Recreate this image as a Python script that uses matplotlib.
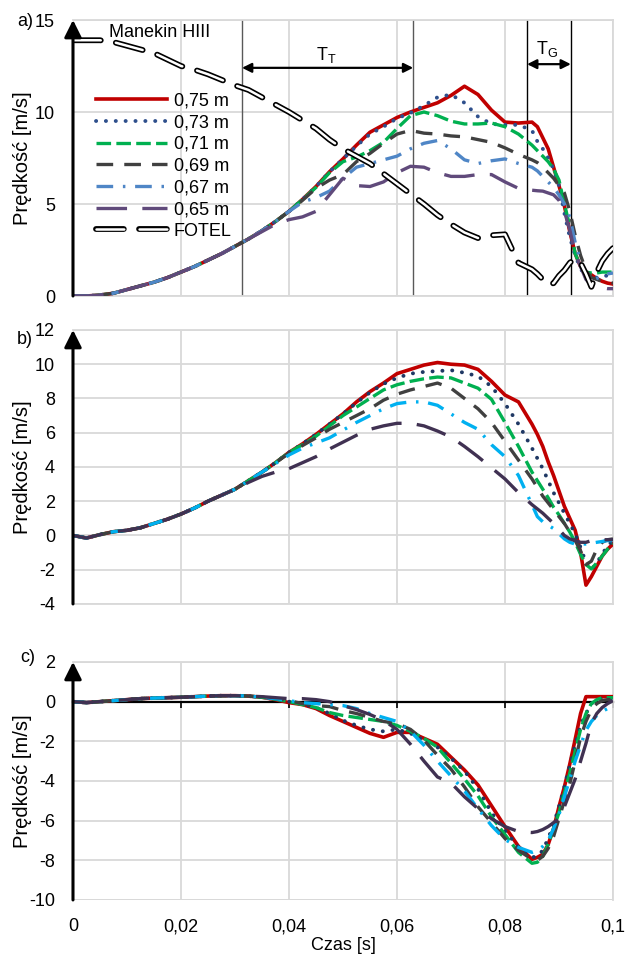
import matplotlib
matplotlib.use('Agg')
import matplotlib.pyplot as plt
from matplotlib.legend_handler import HandlerTuple

plt.rcParams['font.family'] = ['Liberation Sans Narrow', 'Liberation Sans', 'DejaVu Sans']
plt.rcParams['font.size'] = 13
plt.rcParams['lines.scale_dashes'] = False
plt.rcParams['mathtext.fontset'] = 'custom'
plt.rcParams['mathtext.rm'] = 'Liberation Sans'

# ---------- DANE ----------
t = [0, .0025, .005, .0075, .01, .0125, .015, .0175, .02, .0225,
     .025, .0275, .03, .0325, .035, .0375, .04, .0425, .045, .0475,
     .05, .0525, .055, .0575, .06, .0625, .065, .0675, .07, .0725,
     .075, .0775, .08, .0825, .085, .086, .087, .088, .089, .09,
     .091, .092, .093, .094, .095, .096, .097, .098, .099, .1]

labels = ['0,75 m', '0,73 m', '0,71 m', '0,69 m', '0,67 m', '0,65 m']

# a) Manekin HIII
a_075 = [0, 0, 0.05, 0.15, 0.35, 0.55, 0.75, 1.0, 1.3, 1.6,
         1.95, 2.3, 2.7, 3.1, 3.55, 4.05, 4.6, 5.25, 5.95, 6.75,
         7.45, 8.2, 8.9, 9.3, 9.7, 10.0, 10.25, 10.5, 10.9, 11.4,
         10.95, 10.1, 9.45, 9.4, 9.45, 9.2, 8.6, 8.0, 7.0, 6.0,
         4.9, 3.5, 2.3, 1.6, 1.3, 1.15, 0.95, 0.8, 0.7, 0.65]
a_073 = [0, 0, 0.05, 0.15, 0.35, 0.55, 0.75, 1.0, 1.3, 1.6,
         1.95, 2.3, 2.7, 3.1, 3.55, 4.05, 4.6, 5.25, 5.95, 6.75,
         7.45, 8.15, 8.8, 9.2, 9.65, 9.95, 10.35, 10.8, 10.95, 10.5,
         9.75, 9.35, 9.3, 9.3, 9.0, 8.4, 8.0, 7.5, 6.9, 6.0,
         4.5, 3.2, 2.2, 1.5, 1.0, 0.9, 1.0, 1.1, 1.1, 1.1]
a_071 = [0, 0, 0.05, 0.15, 0.35, 0.55, 0.75, 1.0, 1.3, 1.6,
         1.95, 2.3, 2.7, 3.1, 3.55, 4.05, 4.6, 5.25, 5.9, 6.7,
         7.3, 7.55, 7.9, 8.35, 9.1, 9.8, 10.0, 9.8, 9.5, 9.35,
         9.35, 9.4, 9.2, 8.8, 8.2, 7.9, 7.6, 7.3, 6.9, 6.3,
         5.0, 3.8, 2.3, 1.6, 1.3, 1.25, 1.25, 1.3, 1.3, 1.3]
a_069 = [0, 0, 0.05, 0.15, 0.35, 0.55, 0.75, 1.0, 1.3, 1.6,
         1.95, 2.3, 2.7, 3.1, 3.55, 4.05, 4.6, 5.2, 5.85, 6.3,
         6.6, 7.3, 7.75, 8.3, 8.8, 9.0, 8.85, 8.8, 8.7, 8.65,
         8.5, 8.35, 8.05, 7.7, 7.4, 7.25, 7.0, 6.7, 6.4, 6.0,
         5.6, 4.6, 3.3, 2.2, 1.4, 1.0, 0.9, 0.8, 0.75, 0.7]
a_067 = [0, 0, 0.05, 0.15, 0.35, 0.55, 0.75, 1.0, 1.3, 1.6,
         1.95, 2.3, 2.7, 3.1, 3.55, 4.05, 4.6, 5.1, 5.35, 5.7,
         6.4, 7.0, 7.2, 7.4, 7.6, 8.0, 8.3, 8.45, 8.0, 7.4,
         7.2, 7.35, 7.45, 7.2, 7.0, 6.8, 6.5, 6.2, 5.9, 5.5,
         5.0, 4.3, 2.9, 1.9, 0.95, 0.85, 0.95, 1.1, 1.2, 1.25]
a_065 = [0, 0, 0.05, 0.15, 0.35, 0.55, 0.75, 1.0, 1.3, 1.6,
         1.95, 2.3, 2.7, 3.1, 3.5, 3.9, 4.15, 4.3, 4.6, 5.5,
         6.4, 6.0, 5.95, 6.2, 6.7, 7.05, 7.0, 6.7, 6.5, 6.5,
         6.6, 6.6, 6.2, 5.85, 5.75, 5.72, 5.7, 5.6, 5.5, 5.2,
         4.6, 3.6, 2.3, 1.6, 0.9, 0.6, 0.5, 0.45, 0.4, 0.4]
a_fotel = [13.9, 13.9, 13.9, 13.8, 13.6, 13.4, 13.2, 12.85, 12.5, 12.3,
           12.05, 11.75, 11.45, 11.2, 10.8, 10.4, 10.0, 9.55, 9.1, 8.5,
           8.0, 7.6, 7.2, 6.65, 6.1, 5.55, 5.0, 4.4, 3.9, 3.45,
           3.15, 3.3, 3.35, 1.8, 1.45, 1.2, 0.9, 0.6, 0.7, 1.1,
           1.4, 1.8, 2.05, 1.8, 1.2, 0.5, 1.3, 1.9, 2.3, 2.6]

# b)
b_075 = [0, -0.15, 0.05, 0.22, 0.3, 0.45, 0.7, 0.95, 1.25, 1.6,
         2.0, 2.35, 2.7, 3.2, 3.7, 4.25, 4.85, 5.35, 5.9, 6.5,
         7.1, 7.8, 8.4, 8.9, 9.45, 9.7, 9.95, 10.1, 10.0, 9.95,
         9.7, 9.0, 8.2, 7.8, 6.5, 5.9, 5.2, 4.3, 3.5, 2.6,
         1.7, 1.0, 0.3, -1.0, -2.9, -2.4, -1.8, -1.2, -0.8, -0.5]
b_073 = [0, -0.15, 0.05, 0.22, 0.3, 0.45, 0.7, 0.95, 1.25, 1.6,
         2.0, 2.35, 2.7, 3.2, 3.7, 4.25, 4.85, 5.35, 5.9, 6.5,
         7.1, 7.75, 8.35, 8.85, 9.2, 9.45, 9.55, 9.6, 9.65, 9.5,
         9.3, 8.7, 7.7, 6.5, 5.1, 4.5, 3.9, 3.2, 2.5, 1.9,
         1.3, 0.7, 0.1, -0.7, -1.6, -2.0, -1.6, -1.1, -0.6, -0.3]
b_071 = [0, -0.15, 0.05, 0.22, 0.3, 0.45, 0.7, 0.95, 1.25, 1.6,
         2.0, 2.35, 2.7, 3.2, 3.7, 4.25, 4.85, 5.3, 5.8, 6.4,
         7.0, 7.5, 8.0, 8.5, 8.8, 9.0, 9.15, 9.25, 9.2, 8.9,
         8.6, 7.95, 6.6, 5.2, 3.7, 3.2, 2.7, 2.2, 1.65, 1.2,
         0.7, 0.2, -0.4, -1.1, -1.7, -1.95, -1.6, -1.2, -0.8, -0.5]
b_069 = [0, -0.15, 0.05, 0.22, 0.3, 0.45, 0.7, 0.95, 1.25, 1.6,
         2.0, 2.35, 2.7, 3.2, 3.7, 4.25, 4.8, 5.25, 5.7, 6.2,
         6.6, 7.0, 7.4, 7.9, 8.25, 8.5, 8.7, 8.9, 8.6, 8.0,
         7.4, 6.6, 5.5, 4.4, 3.3, 2.8, 2.3, 1.9, 1.5, 1.1,
         0.7, 0.2, -0.3, -0.9, -1.7, -1.5, -0.8, -0.4, -0.25, -0.2]
b_067 = [0, -0.15, 0.05, 0.22, 0.3, 0.45, 0.7, 0.95, 1.25, 1.6,
         2.0, 2.35, 2.7, 3.2, 3.7, 4.2, 4.7, 5.1, 5.4, 5.7,
         6.15, 6.6, 7.0, 7.4, 7.7, 7.8, 7.8, 7.6, 7.1, 6.6,
         6.2, 5.3, 4.6, 3.5, 1.8, 1.1, 0.8, 0.6, 0.4, 0.1,
         -0.2, -0.4, -0.5, -0.5, -0.5, -0.45, -0.4, -0.35, -0.3, -0.3]
b_065 = [0, -0.15, 0.05, 0.22, 0.3, 0.45, 0.7, 0.95, 1.25, 1.6,
         2.0, 2.35, 2.7, 3.1, 3.45, 3.7, 3.9, 4.25, 4.6, 5.05,
         5.45, 5.85, 6.2, 6.4, 6.55, 6.55, 6.4, 6.1, 5.75, 5.2,
         4.6, 3.95, 3.3, 2.5, 1.8, 1.55, 1.3, 1.0, 0.7, 0.35,
         0.0, -0.2, -0.3, -0.4, -0.4, -0.3, -0.25, -0.25, -0.25, -0.25]

# c)
c_075 = [0, -0.05, 0.0, 0.05, 0.1, 0.15, 0.18, 0.2, 0.22, 0.25,
         0.28, 0.3, 0.3, 0.28, 0.22, 0.1, -0.05, -0.15, -0.35, -0.7,
         -1.0, -1.3, -1.6, -1.8, -1.55, -1.55, -1.85, -2.15, -2.8, -3.45,
         -4.2, -5.25, -6.3, -7.3, -7.95, -7.85, -7.7, -7.2, -6.4, -5.3,
         -4.3, -3.15, -1.9, -0.6, 0.25, 0.25, 0.25, 0.25, 0.25, 0.25]
c_073 = [0, -0.05, 0.0, 0.05, 0.1, 0.15, 0.18, 0.2, 0.22, 0.25,
         0.28, 0.3, 0.3, 0.28, 0.22, 0.12, 0.0, -0.12, -0.3, -0.6,
         -0.95, -1.2, -1.4, -1.5, -1.4, -1.6, -1.95, -2.3, -2.85, -3.5,
         -4.4, -5.6, -6.5, -7.35, -7.85, -7.8, -7.5, -6.9, -6.2, -5.3,
         -4.3, -3.2, -2.2, -1.2, -0.6, -0.1, 0.1, 0.15, 0.15, 0.15]
c_071 = [0, -0.05, 0.0, 0.05, 0.1, 0.15, 0.18, 0.2, 0.22, 0.25,
         0.28, 0.3, 0.3, 0.28, 0.22, 0.12, 0.0, -0.15, -0.3, -0.55,
         -0.7, -0.8, -0.9, -1.0, -1.2, -1.5, -1.85, -2.3, -3.1, -3.9,
         -4.75, -5.8, -6.7, -7.6, -8.15, -8.1, -7.8, -7.2, -6.4, -5.6,
         -4.6, -3.6, -2.5, -1.4, -0.6, -0.1, 0.1, 0.2, 0.2, 0.2]
c_069 = [0, -0.05, 0.0, 0.05, 0.1, 0.15, 0.18, 0.2, 0.22, 0.25,
         0.28, 0.3, 0.3, 0.28, 0.22, 0.15, 0.05, -0.1, -0.2, -0.25,
         -0.45, -0.6, -0.8, -1.0, -1.1, -1.4, -1.95, -2.7, -3.4, -4.3,
         -5.3, -6.1, -6.9, -7.5, -7.95, -8.0, -7.8, -7.4, -6.8, -5.9,
         -5.0, -4.15, -3.0, -1.8, -1.0, -0.4, -0.1, 0.05, 0.1, 0.1]
c_067 = [0, -0.05, 0.0, 0.05, 0.1, 0.15, 0.18, 0.2, 0.22, 0.25,
         0.28, 0.3, 0.3, 0.28, 0.22, 0.15, 0.05, -0.05, -0.1, -0.15,
         -0.2, -0.35, -0.6, -0.8, -1.0, -1.5, -2.2, -3.0, -3.75, -4.5,
         -5.4, -6.25, -6.95, -7.35, -7.6, -7.5, -7.3, -7.0, -6.4, -5.7,
         -4.8, -3.9, -3.0, -2.2, -1.45, -1.0, -0.7, -0.5, -0.35, -0.25]
c_065 = [0, -0.05, 0.0, 0.05, 0.1, 0.15, 0.18, 0.2, 0.22, 0.25,
         0.28, 0.3, 0.3, 0.28, 0.25, 0.2, 0.15, 0.15, 0.1, 0.0,
         -0.2, -0.4, -0.65, -0.95, -1.4, -2.15, -3.0, -3.8, -4.1, -4.8,
         -5.4, -5.9, -6.3, -6.55, -6.6, -6.55, -6.45, -6.3, -6.1, -5.9,
         -5.3, -4.6, -3.9, -3.0, -2.1, -1.1, -0.6, -0.3, -0.1, 0.05]

# granice faz T_T i T_G
phase_lines = [0.0313, 0.063, 0.0841, 0.0922]

# ---------- STYLE ----------
colors_a = ['#c00000', '#2e4f8c', '#00b050', '#404040', '#4f86c6', '#604a7b']
colors_bc = ['#c00000', '#1f3864', '#00b050', '#404040', '#00b0f0', '#403152']
line_kw = [
    dict(linestyle='-', lw=2.6),
    dict(linestyle=(0, (0.1, 7.0)), lw=2.8, dash_capstyle='round'),
    dict(linestyle=(0, (10.5, 3.8)), lw=2.4),
    dict(linestyle=(0, (12, 8)), lw=2.4),
    dict(linestyle=(0, (12, 7, 1.8, 7)), lw=2.4),
    dict(linestyle=(0, (22, 11)), lw=2.4),
]
grid_col = '#d9d9d9'


def style_axes(ax, ylim, yticks):
    ax.set_xlim(0, 0.1)
    ax.set_ylim(*ylim)
    ax.set_yticks(yticks)
    ax.set_yticklabels([str(v) for v in yticks])
    ax.set_xticks([0, 0.02, 0.04, 0.06, 0.08, 0.1])
    ax.grid(True, color=grid_col, lw=1.3)
    ax.set_axisbelow(True)
    for s in ['top', 'right', 'bottom']:
        ax.spines[s].set_color(grid_col)
        ax.spines[s].set_linewidth(1.3)
    ax.spines['left'].set_visible(False)
    ax.tick_params(axis='y', length=0, pad=13)
    ax.tick_params(axis='x', length=0, labelbottom=False)
    ax.set_ylabel('Prędkość [m/s]', fontsize=14.5)
    ax.yaxis.set_label_coords(-0.076, 0.5)
    # strzalka osi y
    ax.annotate('', xy=(0, 1), xytext=(0, 0), xycoords='axes fraction',
                textcoords='axes fraction',
                arrowprops=dict(arrowstyle='-|>', lw=2.2, color='black',
                                mutation_scale=26, shrinkA=0, shrinkB=0),
                annotation_clip=False, zorder=10)


fig = plt.figure(figsize=(6.26, 9.57), dpi=100)
ax_a = fig.add_axes([0.1166, 0.6907, 0.8626, 0.2884])
ax_b = fig.add_axes([0.1166, 0.3689, 0.8626, 0.2863])
ax_c = fig.add_axes([0.1166, 0.0596, 0.8626, 0.2487])

# ---------- a) ----------
style_axes(ax_a, (0, 15), [0, 5, 10, 15])
for x in phase_lines[:2]:
    ax_a.axvline(x, color='#595959', lw=1.0, zorder=1)
for x in phase_lines[2:]:
    ax_a.axvline(x, color='black', lw=1.0, zorder=1)

handles = []
for vals, col, kw, lab in zip([a_075, a_073, a_071, a_069, a_067, a_065],
                              colors_a, line_kw, labels):
    ln, = ax_a.plot(t, vals, color=col, label=lab, zorder=3, **kw)
    handles.append(ln)

f_out, = ax_a.plot(t, a_fotel, color='black', lw=4.2, linestyle=(0, (20, 11)),
                   dash_capstyle='round', zorder=4)
f_in, = ax_a.plot(t, a_fotel, color='white', lw=1.8, linestyle=(0, (20, 11)),
                  dash_capstyle='round', zorder=5)

leg = ax_a.legend(handles + [(f_out, f_in)], labels + ['FOTEL'],
                  handler_map={tuple: HandlerTuple(ndivide=1, pad=0)},
                  loc='upper left', bbox_to_anchor=(0.043, 0.737),
                  frameon=False, borderpad=0, borderaxespad=0,
                  handlelength=3.9, handletextpad=0.4, labelspacing=0.26,
                  fontsize=13)
ax_a.text(0.0161, 14.3, 'Manekin HIII', ha='center', va='center', fontsize=13)

ax_a.annotate('', xy=(phase_lines[0], 12.4), xytext=(phase_lines[1], 12.4),
              arrowprops=dict(arrowstyle='<|-|>', lw=1.6, color='black',
                              mutation_scale=14, shrinkA=0, shrinkB=0))
ax_a.annotate('', xy=(phase_lines[2], 12.6), xytext=(phase_lines[3], 12.6),
              arrowprops=dict(arrowstyle='<|-|>', lw=1.6, color='black',
                              mutation_scale=14, shrinkA=0, shrinkB=0))
ax_a.text(0.0469, 13.1, r'T$_\mathregular{T}$', ha='center', va='center', fontsize=13)
ax_a.text(0.0878, 13.4, r'T$_\mathregular{G}$', ha='center', va='center', fontsize=13)

# ---------- b) ----------
style_axes(ax_b, (-4, 12), list(range(-4, 13, 2)))
for vals, col, kw, lab in zip([b_075, b_073, b_071, b_069, b_067, b_065],
                              colors_bc, line_kw, labels):
    ax_b.plot(t, vals, color=col, label=lab, zorder=3, **kw)

# ---------- c) ----------
style_axes(ax_c, (-10, 2), list(range(-10, 3, 2)))
for vals, col, kw, lab in zip([c_075, c_073, c_071, c_069, c_067, c_065],
                              colors_bc, line_kw, labels):
    ax_c.plot(t, vals, color=col, label=lab, zorder=3, **kw)

ax_c.spines['bottom'].set_position(('data', 0))
ax_c.spines['bottom'].set_color('black')
ax_c.spines['bottom'].set_linewidth(1.6)
ax_c.spines['bottom'].set_zorder(2)
ax_c.set_xticklabels(['0', '0,02', '0,04', '0,06', '0,08', '0,1'])
ax_c.tick_params(axis='x', length=4, width=1.2, color='black', direction='out',
                 labelbottom=True, pad=152)
ax_c.axhline(-10, color=grid_col, lw=2.0, zorder=0)
ax_c.set_xlabel('Czas [s]', fontsize=13)
ax_c.xaxis.set_label_coords(0.5, -0.155)

fig.text(17 / 626, 1 - 21 / 957, 'a)', ha='left', va='center', fontsize=13)
fig.text(17 / 626, 1 - 340 / 957, 'b)', ha='left', va='center', fontsize=13)
fig.text(20 / 626, 1 - 658 / 957, 'c)', ha='left', va='center', fontsize=13)

plt.savefig('out.png', dpi=100)
plt.close()
